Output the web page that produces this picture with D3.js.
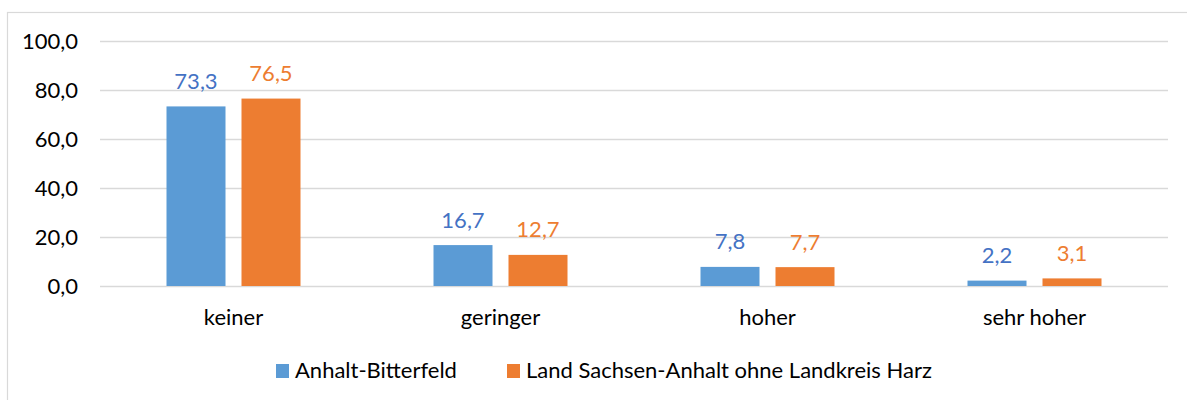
<!DOCTYPE html>
<html><head><meta charset="utf-8">
<script src="https://cdn.jsdelivr.net/npm/d3@7"></script>
<style>
html,body{margin:0;padding:0;background:#fff;}
svg{display:block;font-family:Lato,"Open Sans",sans-serif;}
</style></head>
<body>
<svg id="chart" width="1187" height="400"></svg>
<script>
const categories = ["keiner", "geringer", "hoher", "sehr hoher"];
const seriesNames = ["Anhalt-Bitterfeld", "Land Sachsen-Anhalt ohne Landkreis Harz"];
const valuesAnhalt = [73.3, 16.7, 7.8, 2.2];
const valuesLand = [76.5, 12.7, 7.7, 3.1];
const yTicks = [0, 20, 40, 60, 80, 100];

const barColors = ["#5B9BD5", "#ED7D31"];
const labelColors = ["#4472C4", "#ED7D31"];
const series = [valuesAnhalt, valuesLand];

const svg = d3.select("#chart");
const W = 1187, H = 400;
const m = {left: 100, right: 19, top: 41, bottom: 114};
const numSize = 22, txtSize = 22;

svg.append("rect").attr("x", 7.5).attr("y", 12.5).attr("width", 1200).attr("height", 400)
  .attr("fill", "#fff").attr("stroke", "#D9D9D9").attr("stroke-width", 1.2);

const x = d3.scaleBand().domain(categories).range([m.left, W - m.right]).paddingInner(0).paddingOuter(0);
const y = d3.scaleLinear().domain([0, 100]).range([H - m.bottom, m.top]);
const fmt = v => d3.format(".1f")(v).replace(".", ",");

// gridlines
const gy = d3.axisLeft(y).tickValues(yTicks).tickSize(-(W - m.right - m.left)).tickFormat("");
const grid = svg.append("g").attr("transform", `translate(${m.left},0)`).call(gy);
grid.select(".domain").remove();
grid.selectAll("line").attr("stroke", "#D9D9D9").attr("stroke-width", 1.3);

// y tick labels
const ya = d3.axisLeft(y).tickValues(yTicks).tickSize(0).tickPadding(22).tickFormat(fmt);
const yg = svg.append("g").attr("transform", `translate(${m.left},0)`).call(ya);
yg.select(".domain").remove();
yg.selectAll("text").attr("font-size", numSize).attr("fill", "#000").attr("font-family", "Lato");

// bars
const bw = 59, gap = 16;
const groupW = bw * 2 + gap;
series.forEach((vals, si) => {
  svg.append("g").selectAll("rect").data(vals).join("rect")
    .attr("x", (d, i) => x(categories[i]) + x.bandwidth() / 2 - groupW / 2 + si * (bw + gap))
    .attr("y", d => y(d))
    .attr("width", bw)
    .attr("height", d => y(0) - y(d))
    .attr("fill", barColors[si]);
  svg.append("g").selectAll("text").data(vals).join("text")
    .attr("x", (d, i) => x(categories[i]) + x.bandwidth() / 2 - groupW / 2 + si * (bw + gap) + bw / 2)
    .attr("y", d => y(d) - 17.5)
    .attr("text-anchor", "middle")
    .attr("font-size", numSize)
    .attr("fill", labelColors[si])
    .text(fmt);
});

// x axis labels
const xa = d3.axisBottom(x).tickSize(0).tickPadding(23.5);
const xg = svg.append("g").attr("transform", `translate(0,${y(0)})`).call(xa);
xg.select(".domain").remove();
xg.selectAll("text").attr("font-size", txtSize).attr("fill", "#000").attr("font-family", "Lato");

// legend
const legendX = [276, 507];
const lg = svg.append("g");
seriesNames.forEach((n, i) => {
  lg.append("rect").attr("x", legendX[i]).attr("y", 364).attr("width", 13).attr("height", 14).attr("fill", barColors[i]);
  lg.append("text").attr("x", legendX[i] + 19).attr("y", 378).attr("font-size", txtSize).attr("fill", "#000").text(n);
});
</script>
</body></html>
